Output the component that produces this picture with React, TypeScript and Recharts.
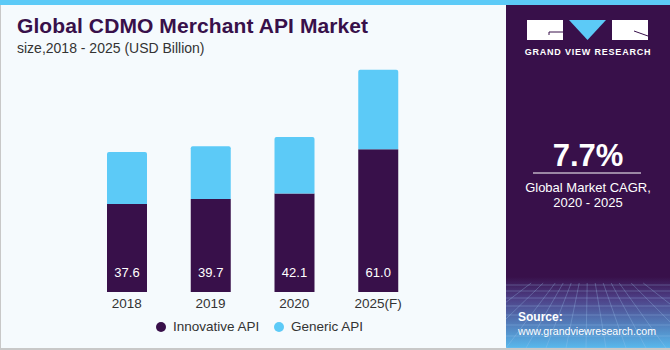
import React from 'react';
import { BarChart, Bar, XAxis, YAxis, LabelList } from 'recharts';

const years = ['2018', '2019', '2020', '2025(F)'];
const innovative = [37.6, 39.7, 42.1, 61.0];
const generic = [22.2, 22.6, 24.1, 34.0];

const PURPLE = '#38104a';
const BLUE = '#5ccaf7';
const FONT = '"Liberation Sans", Arial, sans-serif';

const data = years.map((year, i) => ({
  year,
  innovative: innovative[i],
  generic: generic[i],
}));

const legendItems = [
  { label: 'Innovative API', color: PURPLE, x: 156 },
  { label: 'Generic API', color: BLUE, x: 274 },
];

const InsideLabel = (props: any) => {
  const { x, y, width, height, value } = props;
  return (
    <text
      x={x + width / 2}
      y={y + height - 15}
      fill="#ffffff"
      fontSize={13}
      fontFamily={FONT}
      textAnchor="middle"
    >
      {Number(value).toFixed(1)}
    </text>
  );
};

// faint perspective grid at the bottom of the side panel
const gridRows = [0, 6, 13, 21, 30, 40, 51, 63];
const gridCols = [-60, -30, 0, 20, 40, 60, 80, 100, 120, 140, 160, 190, 220];

export default function App() {
  return (
    <div style={{ position: 'absolute', left: 0, top: 0, width: 670, height: 350, background: '#f5fafd', overflow: 'hidden', fontFamily: FONT }}>
      <div style={{ position: 'absolute', left: 0, top: 0, width: 670, height: 5, background: BLUE }} />
      <div style={{ position: 'absolute', left: 0, top: 5, width: 1, height: 345, background: '#c8c8c8' }} />
      <div style={{ position: 'absolute', left: 0, top: 348, width: 670, height: 2, background: '#c8c8c8' }} />

      <div style={{ position: 'absolute', left: 17, top: 14, fontSize: 21, fontWeight: 700, color: PURPLE, letterSpacing: 0.1 }}>
        Global CDMO Merchant API Market
      </div>
      <div style={{ position: 'absolute', left: 17, top: 40, fontSize: 14, color: '#333' }}>
        size,2018 - 2025 (USD Billion)
      </div>

      <div style={{ position: 'absolute', left: 0, top: 0 }}>
        <BarChart width={506} height={350} data={data} margin={{ top: 58, right: 86, bottom: 38, left: 85 }}>
          <XAxis
            dataKey="year"
            axisLine={false}
            tickLine={false}
            tickSize={0}
            tickMargin={6}
            height={20}
            interval={0}
            tick={{ fill: '#333', fontSize: 13.5, fontFamily: FONT }}
          />
          <YAxis hide domain={[0, 100]} />
          <Bar dataKey="innovative" stackId="a" fill={PURPLE} barSize={40} isAnimationActive={false}>
            <LabelList dataKey="innovative" content={<InsideLabel />} />
          </Bar>
          <Bar dataKey="generic" stackId="a" fill={BLUE} barSize={40} radius={[2, 2, 0, 0]} isAnimationActive={false} />
        </BarChart>
      </div>

      {legendItems.map((item) => (
        <div key={item.label} style={{ position: 'absolute', left: item.x, top: 319, display: 'flex', alignItems: 'center', fontSize: 13.5, color: '#333', whiteSpace: 'nowrap' }}>
          <span style={{ width: 10, height: 10, borderRadius: 5, background: item.color, marginRight: 7, display: 'inline-block' }} />
          {item.label}
        </div>
      ))}

      <div style={{ position: 'absolute', left: 506, top: 5, width: 164, height: 343, background: PURPLE }}>
        <svg width={164} height={343} style={{ position: 'absolute', left: 0, top: 0 }}>
          <defs>
            <linearGradient id="fade" x1="0" y1="0" x2="0" y2="1">
              <stop offset="0" stopColor={PURPLE} />
              <stop offset="0.3" stopColor="#4d3f86" />
              <stop offset="1" stopColor="#58b8ec" />
            </linearGradient>
          </defs>
          <rect x={0} y={272} width={164} height={71} fill="url(#fade)" />
          {gridRows.map((r) => (
            <line key={`r${r}`} x1={0} x2={164} y1={280 + r} y2={280 + r} stroke="#9fc6ee" strokeOpacity={0.3} strokeWidth={1} />
          ))}
          {gridCols.map((c) => (
            <line key={`c${c}`} x1={82 + (c - 82) * 0.4} y1={278} x2={c} y2={343} stroke="#9fc6ee" strokeOpacity={0.3} strokeWidth={1} />
          ))}
          {/* logo */}
          <rect x={21} y={15} width={36} height={20} fill="#ffffff" />
          <polygon points="63,15 100,15 81.5,35" fill={BLUE} />
          <rect x={106} y={15} width={36} height={20} fill="#ffffff" />
          <line x1={43} y1={27} x2={57} y2={27} stroke={PURPLE} strokeWidth={1} />
          <line x1={43} y1={27} x2={43} y2={30} stroke={PURPLE} strokeWidth={1} />
          <line x1={128} y1={26} x2={142} y2={31} stroke={PURPLE} strokeWidth={1} />
          <text x={82} y={50} fill="#ffffff" fontSize={9} fontWeight={700} fontFamily={FONT} textAnchor="middle" letterSpacing={0.8}>
            GRAND VIEW RESEARCH
          </text>
          <text x={82} y={161} fill="#ffffff" fontSize={31} fontWeight={700} fontFamily={FONT} textAnchor="middle">
            7.7%
          </text>
          <line x1={27} x2={135} y1={168} y2={168} stroke="#ffffff" strokeWidth={1} />
          <text x={82} y={187} fill="#ffffff" fontSize={13} fontFamily={FONT} textAnchor="middle">
            Global Market CAGR,
          </text>
          <text x={82} y={202} fill="#ffffff" fontSize={13} fontFamily={FONT} textAnchor="middle">
            2020 - 2025
          </text>
          <text x={12} y={316} fill="#ffffff" fontSize={12} fontWeight={700} fontFamily={FONT}>
            Source:
          </text>
          <text x={12} y={330} fill="#ffffff" fontSize={11} fontFamily={FONT} textLength={138} lengthAdjust="spacingAndGlyphs">
            www.grandviewresearch.com
          </text>
        </svg>
      </div>
    </div>
  );
}
